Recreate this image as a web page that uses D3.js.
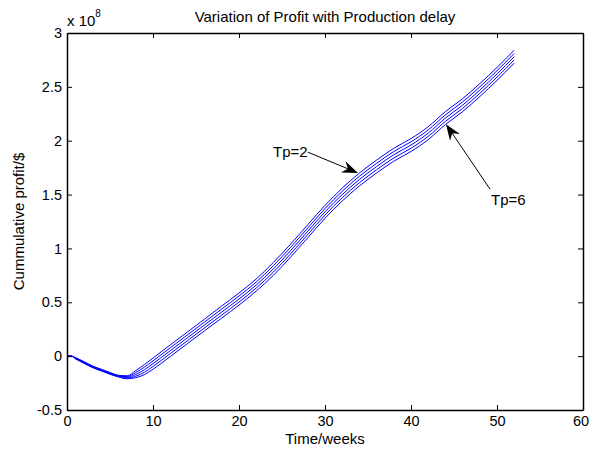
<!DOCTYPE html>
<html><head><meta charset="utf-8">
<script src="https://cdn.jsdelivr.net/npm/d3@7"></script>
<style>
html,body{margin:0;padding:0;background:#fff;}
text{font-family:"Liberation Sans",Arial,sans-serif;}
</style></head>
<body>
<svg id="chart" width="590" height="451"></svg>
<script>
// Data (profit in units of 1e8 $)
const weeks = [0, 0.5, 1, 2, 3, 4, 5, 6, 7, 8, 9, 10, 12, 14, 16, 18, 20, 22, 24, 26, 28, 30, 32, 34, 36, 38, 40, 42, 44, 46, 48, 50, 52];
const tp2 = [0, 0, -0.014, -0.052, -0.092, -0.122, -0.152, -0.178, -0.182, -0.134, -0.078, -0.018, 0.104, 0.224, 0.344, 0.466, 0.586, 0.716, 0.87, 1.04, 1.22, 1.40, 1.56, 1.70, 1.82, 1.93, 2.02, 2.13, 2.27, 2.39, 2.53, 2.68, 2.84];
const tp3 = [0, 0, -0.017, -0.056, -0.096, -0.126, -0.156, -0.182, -0.19, -0.152, -0.102, -0.044, 0.077, 0.197, 0.317, 0.438, 0.558, 0.688, 0.84, 1.01, 1.19, 1.37, 1.53, 1.67, 1.79, 1.90, 1.99, 2.10, 2.24, 2.36, 2.50, 2.65, 2.81];
const tp4 = [0, 0, -0.02, -0.06, -0.10, -0.13, -0.16, -0.186, -0.197, -0.17, -0.126, -0.07, 0.05, 0.17, 0.29, 0.41, 0.53, 0.66, 0.81, 0.98, 1.16, 1.34, 1.50, 1.64, 1.76, 1.87, 1.96, 2.07, 2.21, 2.33, 2.47, 2.62, 2.78];
const tp5 = [0, 0, -0.023, -0.064, -0.104, -0.134, -0.164, -0.19, -0.204, -0.186, -0.15, -0.096, 0.023, 0.143, 0.263, 0.382, 0.502, 0.632, 0.78, 0.95, 1.13, 1.31, 1.47, 1.61, 1.73, 1.84, 1.93, 2.04, 2.18, 2.30, 2.44, 2.59, 2.75];
const tp6 = [0, 0, -0.026, -0.068, -0.108, -0.138, -0.168, -0.194, -0.21, -0.2, -0.172, -0.122, -0.004, 0.116, 0.236, 0.354, 0.474, 0.604, 0.75, 0.92, 1.10, 1.28, 1.44, 1.58, 1.70, 1.81, 1.90, 2.01, 2.15, 2.27, 2.41, 2.56, 2.72];
const seriesList = [tp2, tp3, tp4, tp5, tp6];
const xTicks = [0, 10, 20, 30, 40, 50, 60];
const yTicks = [-0.5, 0, 0.5, 1, 1.5, 2, 2.5, 3];
const yTickLabels = ["-0.5", "0", "0.5", "1", "1.5", "2", "2.5", "3"];
const annotations = [
  {label: "Tp=2", textAt: [23.95, 1.85], from: [28.0, 1.894], to: [33.84, 1.70]},
  {label: "Tp=6", textAt: [49.3, 1.40], from: [49.19, 1.55], to: [44.07, 2.154]}
];

const svg = d3.select("#chart");
const L = 67, R = 583, T = 33, B = 410;
const x = d3.scaleLinear().domain([0, 60]).range([L, R]);
const y = d3.scaleLinear().domain([-0.5, 3]).range([B, T]);
const fs = 15, tfs = 14.5;

// lines
const line = d3.line().x((d, i) => x(weeks[i])).y(d => y(d)).curve(d3.curveMonotoneX);
svg.append("clipPath").attr("id", "clip").append("rect")
  .attr("x", L).attr("y", T).attr("width", R - L).attr("height", B - T);
svg.append("g").attr("clip-path", "url(#clip)")
  .selectAll("path").data(seriesList).join("path")
  .attr("d", d => line(d)).attr("fill", "none").attr("stroke", "#0000ff").attr("stroke-width", 1);

// axes (MATLAB box style, inward ticks)
const tl = 5;
const axB = d3.axisBottom(x).tickValues(xTicks).tickSizeInner(-tl).tickSizeOuter(0).tickPadding(6);
const axT = d3.axisTop(x).tickValues(xTicks).tickSizeInner(-tl).tickSizeOuter(0).tickFormat("");
const axL = d3.axisLeft(y).tickValues(yTicks).tickSizeInner(-tl).tickSizeOuter(0).tickPadding(5)
  .tickFormat((d, i) => yTickLabels[i]);
const axR = d3.axisRight(y).tickValues(yTicks).tickSizeInner(-tl).tickSizeOuter(0).tickFormat("");

function style(g) {
  g.selectAll(".domain").attr("stroke", "#000").attr("stroke-width", 1.5);
  g.selectAll(".tick line").attr("stroke", "#000").attr("stroke-width", 1);
  g.selectAll(".tick text").attr("font-size", tfs).attr("fill", "#000")
    .attr("font-family", "'Liberation Sans', Arial, sans-serif");
}
const gB = svg.append("g").attr("transform", `translate(0,${B})`).call(axB).call(style);
gB.selectAll(".tick text").filter(d => d === 60).attr("dx", -2.5);
svg.append("g").attr("transform", `translate(0,${T})`).call(axT).call(style);
svg.append("g").attr("transform", `translate(${L},0)`).call(axL).call(style);
svg.append("g").attr("transform", `translate(${R},0)`).call(axR).call(style);

// titles
svg.append("text").attr("x", (L + R) / 2).attr("y", 22).attr("text-anchor", "middle")
  .attr("font-size", fs).text("Variation of Profit with Production delay");
svg.append("text").attr("x", (L + R) / 2).attr("y", 444).attr("text-anchor", "middle")
  .attr("font-size", fs).text("Time/weeks");
svg.append("text").attr("transform", `translate(24,${(T + B) / 2}) rotate(-90)`).attr("text-anchor", "middle")
  .attr("font-size", fs).text("Cummulative profit/$");
const ex = svg.append("text").attr("x", L).attr("y", 26).attr("font-size", fs);
ex.append("tspan").text("x 10");
ex.append("tspan").attr("dy", -9).attr("font-size", 10).text("8");

// annotations with arrows
annotations.forEach(a => {
  svg.append("text").attr("x", x(a.textAt[0])).attr("y", y(a.textAt[1])).attr("font-size", fs).text(a.label);
  const x0 = x(a.from[0]), y0 = y(a.from[1]), x1 = x(a.to[0]), y1 = y(a.to[1]);
  const dx = x1 - x0, dy = y1 - y0, len = Math.hypot(dx, dy);
  const ux = dx / len, uy = dy / len, px = -uy, py = ux;
  const hl = 16, hw = 6, notch = 11;
  svg.append("line").attr("x1", x0).attr("y1", y0)
    .attr("x2", x1 - ux * notch).attr("y2", y1 - uy * notch)
    .attr("stroke", "#000").attr("stroke-width", 1);
  const pts = [
    [x1, y1],
    [x1 - ux * hl + px * hw, y1 - uy * hl + py * hw],
    [x1 - ux * notch, y1 - uy * notch],
    [x1 - ux * hl - px * hw, y1 - uy * hl - py * hw]
  ];
  svg.append("path").attr("d", "M" + pts.map(p => p.join(",")).join("L") + "Z").attr("fill", "#000");
});
</script>
</body></html>
